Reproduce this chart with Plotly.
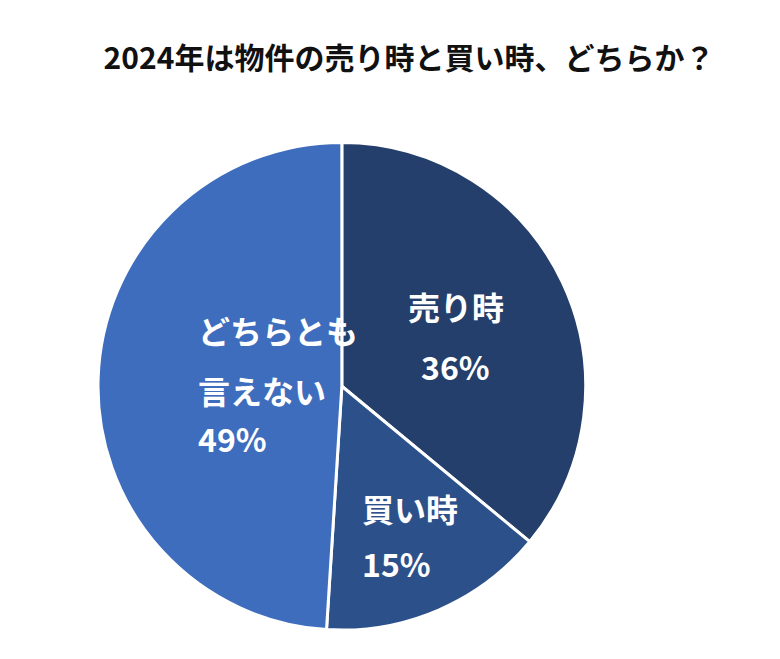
import plotly.graph_objects as go

labels = ['売り時', '買い時', 'どちらとも<br>言えない']
values = [36, 15, 49]
colors = ['#243F6B', '#2C5089', '#3E6DBD']

fig = go.Figure(go.Pie(
    labels=labels, values=values, sort=False, direction='clockwise', rotation=0,
    marker=dict(colors=colors, line=dict(color='white', width=3)),
    textinfo='none', hoverinfo='label+percent', showlegend=False,
    domain=dict(x=[0.115, 0.741], y=[0.056, 0.796]),
))

font = dict(family='Noto Sans CJK JP', size=32, color='white')
notes = [
    ('売り時', 448, 298), ('36%', 448, 358),
    ('買い時', 402, 525), ('15%', 388, 580),
    ('どちらとも', 188, 322), ('言えない', 188, 382), ('49%', 188, 455),
]
for t, px, py in notes:
    fig.add_annotation(text='<b>%s</b>' % t, x=px / 780, y=1 - py / 659,
                       xref='paper', yref='paper', showarrow=False, font=font)

fig.update_layout(
    width=780, height=659, margin=dict(l=0, r=0, t=0, b=0),
    paper_bgcolor='white',
    title=dict(text='<b>2024年は物件の売り時と買い時、どちらか？</b>', x=401 / 780, xanchor='center',
               y=1 - 50 / 659, yanchor='middle',
               font=dict(family='Noto Sans CJK JP', size=30, color='#111111')),
)
fig.write_html('out.html')
